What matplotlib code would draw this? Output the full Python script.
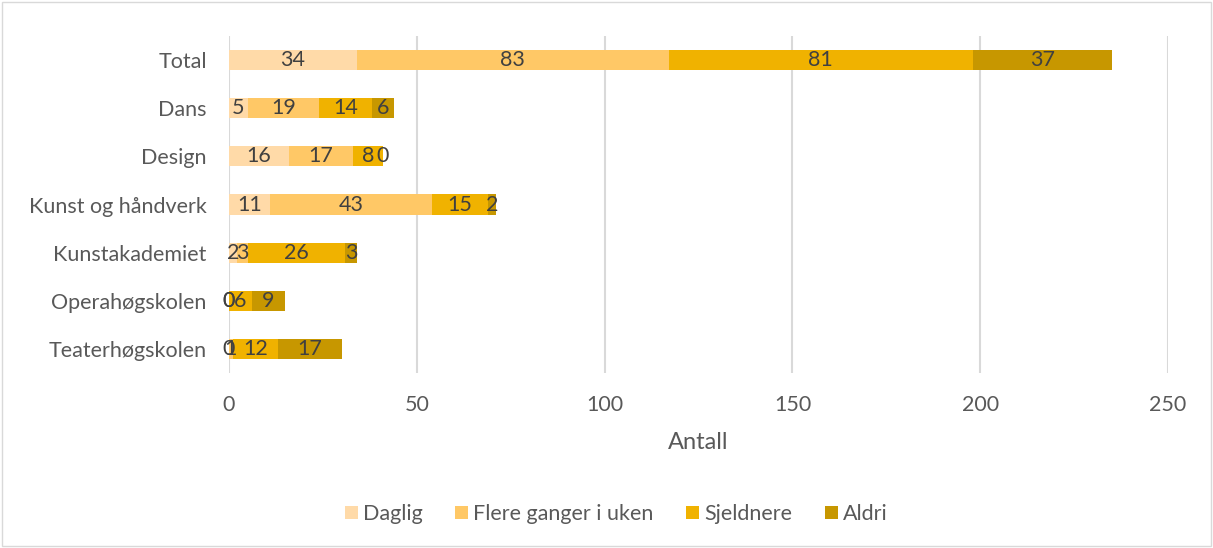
import numpy as np
import matplotlib
matplotlib.use("Agg")
import matplotlib.pyplot as plt
from matplotlib.patches import Rectangle

# categories, top to bottom as in the chart
categories = ['Total', 'Dans', 'Design', 'Kunst og håndverk',
              'Kunstakademiet', 'Operahøgskolen', 'Teaterhøgskolen']
series = ['Daglig', 'Flere ganger i uken', 'Sjeldnere', 'Aldri']
daglig = [34, 5, 16, 11, 2, 0, 0]
flere = [83, 19, 17, 43, 3, 0, 1]
sjeldnere = [81, 14, 8, 15, 26, 6, 12]
aldri = [37, 6, 0, 2, 3, 9, 17]
colors = ['#FFDAA8', '#FFC866', '#F0B200', '#C79700']
xticks = [0, 50, 100, 150, 200, 250]

plt.rcParams['font.family'] = ['Lato', 'DejaVu Sans']

fig = plt.figure(figsize=(12.13, 5.48), dpi=100)
ax = fig.add_axes([0.1888, 0.3193, 0.963 - 0.1888, 0.9343 - 0.3193])

y = np.arange(len(categories))[::-1]
left = np.zeros(len(categories))
for name, vals, col in zip(series, [daglig, flere, sjeldnere, aldri], colors):
    vals = np.array(vals, dtype=float)
    ax.barh(y, vals, left=left, height=0.42, color=col, label=name, zorder=2)
    # data labels centred in each segment (small ones overlap, as in Excel)
    for yi, l, v in zip(y, left, vals):
        ax.text(l + v / 2, yi, f'{int(v)}', ha='center', va='center',
                fontsize=15.5, color='#404040', zorder=3)
    left += vals

ax.set_xlim(0, 250)
ax.set_ylim(-0.5, len(categories) - 0.5)
ax.set_xticks(xticks)
ax.set_xticklabels([str(t) for t in xticks])
ax.set_yticks(y)
ax.set_yticklabels(categories)
ax.tick_params(axis='both', length=0, labelsize=15.5, colors='#595959')
ax.tick_params(axis='x', pad=16)
ax.tick_params(axis='y', pad=16)
ax.grid(axis='x', color='#D9D9D9', linewidth=1.5, zorder=0)
for s in ax.spines.values():
    s.set_visible(False)
ax.set_xlabel('Antall', fontsize=17, color='#595959', labelpad=12)

handles, labels = ax.get_legend_handles_labels()
fig.legend(handles, labels, loc='center', bbox_to_anchor=(0.508, 1 - 514 / 548), ncol=4,
           frameon=False, fontsize=15.5, handlelength=0.6, handleheight=0.6,
           handletextpad=0.25, columnspacing=1.5, labelcolor='#595959')

fig.patches.append(Rectangle((0.002, 0.003), 0.996, 0.994, transform=fig.transFigure,
                             fill=False, edgecolor='#D9D9D9', linewidth=1))

fig.savefig('out.png', dpi=100)
